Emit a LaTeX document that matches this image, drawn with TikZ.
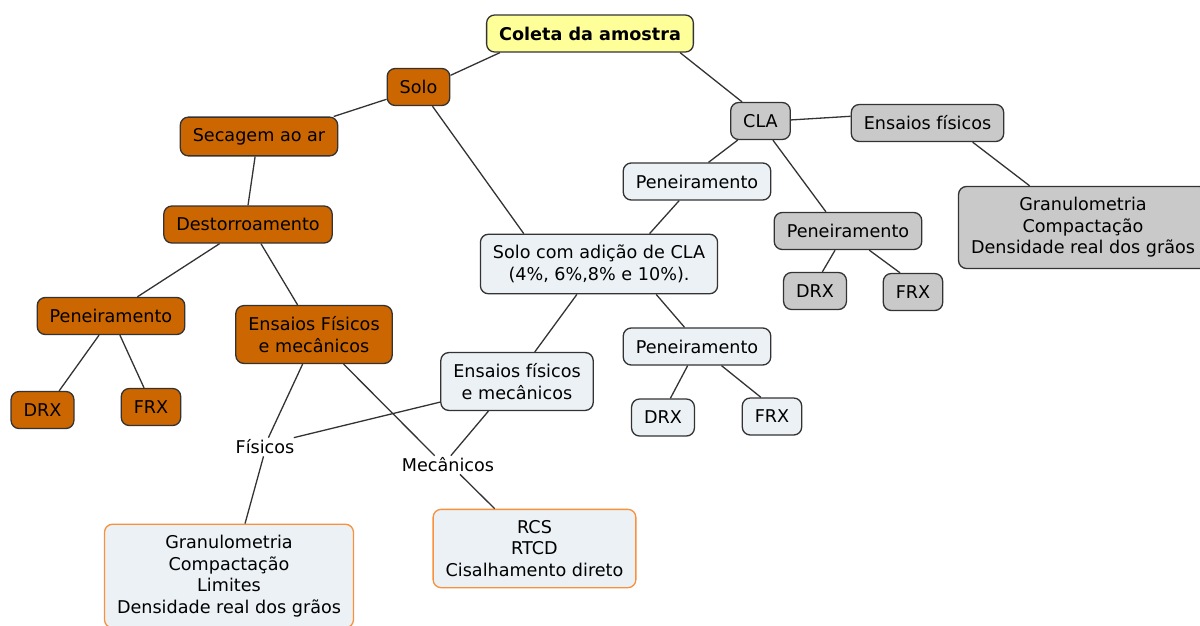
\documentclass[tikz,border=0pt]{standalone}
\usepackage{fontspec}
\setmainfont{DejaVu Sans}
\definecolor{soilorange}{HTML}{CC6600}
\definecolor{clagray}{HTML}{C9C9C9}
\definecolor{mixblue}{HTML}{EBF1F4}
\definecolor{startyellow}{HTML}{FFFF99}
\definecolor{resorange}{HTML}{F7913D}
\definecolor{linegray}{HTML}{333333}

\begin{document}
\begin{tikzpicture}[
  x=1pt, y=-1pt, font=\fontsize{17.6}{21.5}\selectfont,
  box/.style={draw=linegray, rounded corners=8pt, align=center, inner xsep=12.5pt, inner ysep=11pt, minimum height=37pt, line width=1.3pt},
  startbox/.style={box, fill=startyellow, font=\fontsize{17.6}{21.5}\selectfont\bfseries},
  soilbox/.style={box, fill=soilorange},
  clabox/.style={box, fill=clagray},
  mixbox/.style={box, fill=mixblue},
  resbox/.style={box, fill=mixblue, draw=resorange},
  lbl/.style={inner sep=2pt},
  link/.style={draw=linegray, line width=1.3pt},
]
\useasboundingbox (0,0) rectangle (1200,625);
\clip (0,0) rectangle (1200,625);
% ---- root ----
\node[startbox] (coleta) at (590,33.5) {Coleta da amostra};
% ---- solo branch ----
\node[soilbox] (solo) at (418.5,87) {Solo};
\node[soilbox] (secagem) at (259,136.5) {Secagem ao ar};
\node[soilbox] (destorro) at (248,224.5) {Destorroamento};
\node[soilbox] (pen1) at (111,316) {Peneiramento};
\node[soilbox] (drx1) at (42.5,410) {DRX};
\node[soilbox] (frx1) at (151,407) {FRX};
\node[soilbox] (ensor) at (314,334.5) {Ensaios Físicos\\e mecânicos};
% ---- labels and results ----
\node[lbl] (fisicos) at (265,447) {Físicos};
\node[lbl] (mecanicos) at (448,465) {Mecânicos};
\node[resbox] (granl) at (229,576)
  {Granulometria\\Compactação\\Limites\\Densidade real dos grãos};
\node[resbox] (rcs) at (534.5,548.5) {RCS\\RTCD\\Cisalhamento direto};
% ---- solo com CLA ----
\node[mixbox] (solocla) at (599,264) {Solo com adição de CLA\\(4\%, 6\%,8\% e 10\%).};
\node[mixbox] (enslt) at (517,381.5) {Ensaios físicos\\e mecânicos};
\node[mixbox] (pen2) at (697,181.5) {Peneiramento};
\node[mixbox] (pen3) at (697,346.5) {Peneiramento};
\node[mixbox] (drx2) at (663,417.5) {DRX};
\node[mixbox] (frx2) at (772,416.5) {FRX};
% ---- CLA branch ----
\node[clabox] (cla) at (760.5,121) {CLA};
\node[clabox] (enscinza) at (927.5,123) {Ensaios físicos};
\node[clabox] (pen4) at (848,231) {Peneiramento};
\node[clabox] (drx3) at (815,291) {DRX};
\node[clabox] (frx3) at (913,292) {FRX};
\node[clabox] (grang) at (1083,227.5)
  {Granulometria\\Compactação\\Densidade real dos grãos};
% ---- links ----
\draw[link] (coleta.192) -- (solo.20);
\draw[link] (coleta.348) -- (cla.134);
\draw[link] (solo.201) -- (secagem.15);
\draw[link] (solo.306) -- (solocla.158);
\draw[link] (secagem.259) -- (destorro.90);
\draw[link] (destorro.214) -- (pen1.36);
\draw[link] (destorro.304) -- (ensor.119);
\draw[link] (pen1.238) -- (drx1.49);
\draw[link] (pen1.295) -- (frx1.110);
\draw[link] (ensor.249) -- (fisicos.70);
\draw[link] (ensor.315) -- (mecanicos.145);
\draw[link] (enslt.195) -- (fisicos.18);
\draw[link] (enslt.226) -- (mecanicos.73);
\draw[link] (fisicos.261) -- (granl.73);
\draw[link] (mecanicos.322) -- (rcs.135);
\draw[link] (solocla.234) -- (enslt.59);
\draw[link] (solocla.332) -- (pen3.123);
\draw[link] (pen3.244) -- (drx2.69);
\draw[link] (pen3.322) -- (frx2.120);
\draw[link] (cla.220) -- (pen2.59);
\draw[link] (pen2.227) -- (solocla.31);
\draw[link] (cla.303) -- (pen4.139);
\draw[link] (cla.2) -- (enscinza.175);
\draw[link] (enscinza.337) -- (grang.142);
\draw[link] (pen4.236) -- (drx3.69);
\draw[link] (pen4.318) -- (frx3.124);
\end{tikzpicture}
\end{document}
